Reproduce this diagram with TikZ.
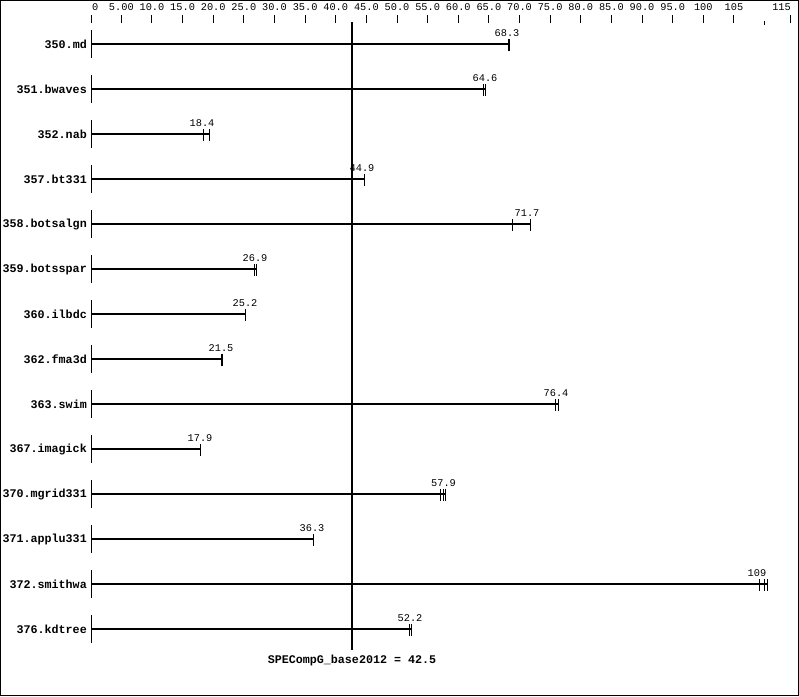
\documentclass[tikz,border=0pt]{standalone}
\usepackage{fontspec}
\setmonofont{Liberation Mono}
\newcommand\rowfont{\ttfamily\bfseries\fontsize{11.7}{12}\selectfont}
\newcommand\valfont{\ttfamily\fontsize{10.3}{11}\selectfont}
\tikzset{
  rowlab/.style={anchor=east,inner sep=0pt,font=\rowfont},
  vallab/.style={anchor=center,inner sep=0pt,font=\valfont},
  axlab/.style={anchor=center,inner sep=0pt,font=\valfont},
  basetick/.style={line width=1pt},
  barline/.style={line width=2pt},
  runtick/.style={line width=1pt},
  axtick/.style={line width=1pt},
  meanline/.style={line width=2pt},
}
\newcommand\chartrow[6]{%
  \node[rowlab] at (87,#1) {#2};
  \draw[basetick] (91,#1-14) -- (91,#1+14);
  \draw[barline] (91,#1) -- (#5,#1);
  \foreach \t in {#6} {\draw[runtick] (\t,#1-5) -- (\t,#1+7);}
  \node[vallab] at (#4,#1-10.5) {#3};
}
\begin{document}
\begin{tikzpicture}[x=1pt,y=-1pt]
\useasboundingbox (0,0) rectangle (799,696);
\draw[line width=1pt] (0.5,0.5) rectangle (798.5,695.5);
% axis
\foreach \k/\lab in {1/5.00,2/10.0,3/15.0,4/20.0,5/25.0,6/30.0,7/35.0,8/40.0,9/45.0,10/50.0,11/55.0,12/60.0,13/65.0,14/70.0,15/75.0,16/80.0,17/85.0,18/90.0,19/95.0,20/100,21/105}{
  \draw[axtick] (90.7+30.63*\k,15) -- (90.7+30.63*\k,23);
  \node[axlab] at (90.7+30.63*\k,7) {\lab};
}
\draw[axtick] (91,15) -- (91,23);
\node[axlab,anchor=west] at (92,7) {0};
\draw[axtick] (764,21) -- (764,25);
\draw[axtick] (790,15) -- (790,23);
\node[axlab,anchor=east] at (791,7) {115};
% mean line
\draw[meanline] (352,22) -- (352,650);
\node[font=\rowfont,inner sep=0pt] (mean) at (352,660) {SPECompG\_base2012 = 42.5};
% rows
\chartrow{44}{350.md}{68.3}{507}{509.5}{508,509.5}
\chartrow{89}{351.bwaves}{64.6}{485}{485.7}{483.3,485.7}
\chartrow{134}{352.nab}{18.4}{202}{209.3}{203.3,209.3}
\chartrow{179}{357.bt331}{44.9}{362}{364.5}{364.5}
\chartrow{224}{358.botsalgn}{71.7}{527}{530.3}{512.3,530.3}
\chartrow{269}{359.botsspar}{26.9}{255}{256}{254,256}
\chartrow{314}{360.ilbdc}{25.2}{245}{245}{245}
\chartrow{359}{362.fma3d}{21.5}{221}{222.5}{221,222.5}
\chartrow{404}{363.swim}{76.4}{556}{558}{555.5,558}
\chartrow{449}{367.imagick}{17.9}{200}{200.5}{200.5}
\chartrow{494}{370.mgrid331}{57.9}{443.5}{445.7}{440.7,443.3,445.7}
\chartrow{539}{371.applu331}{36.3}{312}{313}{313}
\chartrow{584}{372.smithwa}{109}{757}{767.7}{759.3,764.3,767.7}
\chartrow{629}{376.kdtree}{52.2}{410}{411.5}{409.5,411.5}
\end{tikzpicture}
\end{document}
